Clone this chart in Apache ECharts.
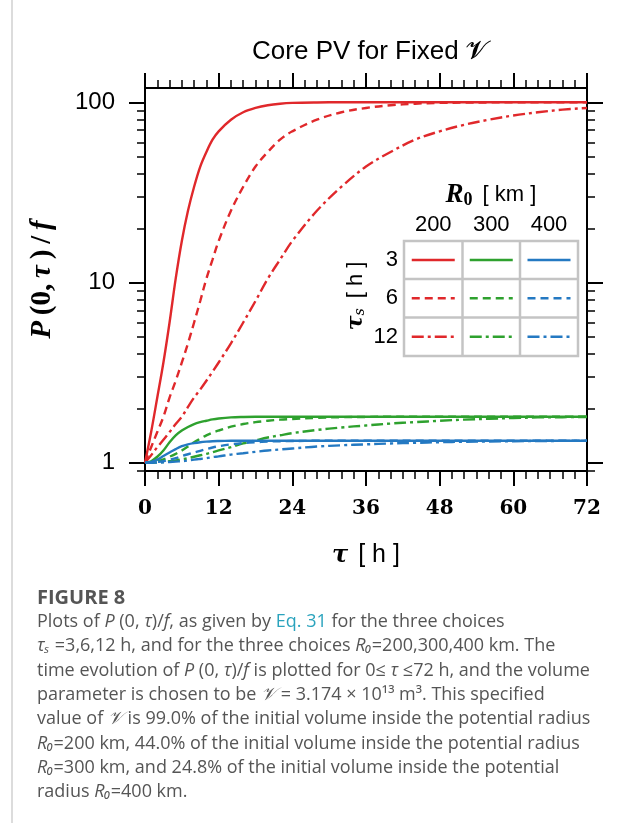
<!DOCTYPE html>
<html lang="en">
<head>
  <meta charset="UTF-8">
  <title>Core PV for Fixed V</title>
  <script src="https://cdn.jsdelivr.net/npm/echarts@6/dist/echarts.min.js"></script>
  <style>
    html, body { margin: 0; padding: 0; background: #fff; }
  </style>
</head>
<body>
  <div id="chart" style="width: 623px; height: 823px;"></div>

  <script>
    // time grid [h]
    const hours = [0, 1, 2, 3, 4, 5, 6, 7, 8, 9, 10, 11, 12, 14, 16, 18, 20, 22, 24, 28, 32, 36, 40, 44, 48, 52, 56, 60, 64, 68, 72]

    // P(0,tau)/f  R0 = 200 km
    const r200ts3 = [1, 1.48, 2.3, 3.6, 6.0, 10.5, 17, 25, 34, 44, 53, 62, 69, 80, 88, 93, 96.3, 98.2, 99.2, 99.8, 100, 100, 100, 100, 100, 100, 100, 100, 100, 100, 100]
    const r200ts6 = [1, 1.22, 1.48, 1.8, 2.3, 2.85, 3.6, 4.6, 6.0, 7.9, 10.5, 13.4, 17, 25, 34, 44, 53, 62, 69, 80, 88, 93, 96.3, 98.2, 99.2, 99.6, 99.8, 99.9, 100, 100, 100]
    const r200ts12 = [1, 1.1, 1.22, 1.34, 1.48, 1.64, 1.8, 2.04, 2.3, 2.55, 2.85, 3.2, 3.6, 4.6, 6.0, 7.9, 10.5, 13.4, 17, 25, 34, 44, 53, 62, 69, 75, 80, 84.5, 88, 91, 93]
    // R0 = 300 km
    const r300ts3 = [1, 1.02, 1.08, 1.17, 1.3, 1.42, 1.51, 1.58, 1.64, 1.68, 1.71, 1.74, 1.76, 1.785, 1.795, 1.8, 1.8, 1.8, 1.8, 1.8, 1.8, 1.8, 1.8, 1.8, 1.8, 1.8, 1.8, 1.8, 1.8, 1.8, 1.8]
    const r300ts6 = [1, 1.005, 1.02, 1.045, 1.08, 1.12, 1.17, 1.23, 1.3, 1.36, 1.42, 1.47, 1.51, 1.585, 1.64, 1.68, 1.71, 1.735, 1.75, 1.775, 1.79, 1.795, 1.8, 1.8, 1.8, 1.8, 1.8, 1.8, 1.8, 1.8, 1.8]
    const r300ts12 = [1, 1.0, 1.005, 1.01, 1.02, 1.03, 1.045, 1.06, 1.08, 1.1, 1.12, 1.145, 1.17, 1.22, 1.28, 1.33, 1.38, 1.42, 1.46, 1.52, 1.57, 1.61, 1.65, 1.68, 1.71, 1.735, 1.755, 1.77, 1.785, 1.79, 1.795]
    // R0 = 400 km
    const r400ts3 = [1, 1.01, 1.04, 1.09, 1.14, 1.19, 1.235, 1.265, 1.285, 1.3, 1.31, 1.317, 1.32, 1.324, 1.325, 1.325, 1.325, 1.325, 1.325, 1.325, 1.325, 1.325, 1.325, 1.325, 1.325, 1.325, 1.325, 1.325, 1.325, 1.325, 1.325]
    const r400ts6 = [1, 1.003, 1.01, 1.02, 1.04, 1.06, 1.09, 1.115, 1.14, 1.165, 1.19, 1.215, 1.235, 1.265, 1.285, 1.3, 1.31, 1.317, 1.32, 1.324, 1.325, 1.325, 1.325, 1.325, 1.325, 1.325, 1.325, 1.325, 1.325, 1.325, 1.325]
    const r400ts12 = [1, 1.0, 1.002, 1.005, 1.01, 1.015, 1.02, 1.03, 1.04, 1.05, 1.06, 1.075, 1.085, 1.11, 1.13, 1.15, 1.17, 1.185, 1.2, 1.23, 1.25, 1.265, 1.28, 1.29, 1.3, 1.308, 1.313, 1.317, 1.32, 1.322, 1.323]

    const radii = ['200', '300', '400']
    const tauS = ['3', '6', '12']
    const xTicks = [0, 12, 24, 36, 48, 60, 72]
    const yMajor = [1, 10, 100]
    const yMinor = [0.9, 2, 3, 4, 5, 6, 7, 8, 9, 20, 30, 40, 50, 60, 70, 80, 90]

    const colors = { '200': '#e0282b', '300': '#2ea12e', '400': '#2479c2' }
    const dashes = { '3': 'solid', '6': [8, 5], '12': [12, 4, 3, 4] }
    const curves = {
      '200': { '3': r200ts3, '6': r200ts6, '12': r200ts12 },
      '300': { '3': r300ts3, '6': r300ts6, '12': r300ts12 },
      '400': { '3': r400ts3, '6': r400ts6, '12': r400ts12 }
    }

    const series = []
    radii.forEach(r => {
      tauS.forEach(ts => {
        series.push({
          name: 'R' + r + ' ts' + ts,
          type: 'line',
          xAxisIndex: 0,
          yAxisIndex: 0,
          showSymbol: false,
          smooth: 0.35,
          z: 3,
          lineStyle: { color: colors[r], width: 2.4, type: dashes[ts] },
          data: hours.map((h, i) => [h, curves[r][ts][i]])
        })
      })
    })

    const black = '#000'

    function xAxisCfg (pos, showLabel) {
      return {
        type: 'value',
        position: pos,
        min: 0,
        max: 72,
        interval: 12,
        axisLine: { show: true, onZero: false, lineStyle: { color: black, width: 2 } },
        axisTick: { show: true, length: 15, lineStyle: { color: black, width: 2 } },
        minorTick: { show: true, splitNumber: 6, length: 8, lineStyle: { color: black, width: 1.5 } },
        splitLine: { show: false },
        minorSplitLine: { show: false },
        axisLabel: {
          show: showLabel,
          margin: 28,
          color: black,
          fontSize: 20,
          fontFamily: 'DejaVu Serif',
          fontWeight: 'bold',
          customValues: xTicks
        }
      }
    }

    function yAxisCfg (pos, ticks, len, width, showLabel) {
      return {
        type: 'log',
        logBase: 10,
        position: pos,
        min: 0.9,
        max: 120,
        axisLine: { show: true, lineStyle: { color: black, width: 2 } },
        axisTick: { show: true, length: len, customValues: ticks, lineStyle: { color: black, width: width } },
        splitLine: { show: false },
        axisLabel: {
          show: showLabel,
          customValues: yMajor,
          margin: 30,
          color: black,
          fontSize: 24,
          fontFamily: 'Liberation Sans'
        }
      }
    }

    const xAx = xAxisCfg('bottom', true)
    xAx.name = '{t|τ}   {u|[ h ]}'
    xAx.nameLocation = 'middle'
    xAx.nameGap = 72
    xAx.nameTextStyle = {
      rich: {
        t: { fontFamily: 'DejaVu Serif', fontStyle: 'italic', fontWeight: 'bold', fontSize: 24, color: black },
        u: { fontFamily: 'Liberation Sans', fontSize: 25, color: black }
      }
    }

    const yAx = yAxisCfg('left', yMajor, 16, 2, true)
    yAx.name = '{i|P}\u2009(0,\u2009{i|τ}\u2009)\u2009/\u2009{i|f}'
    yAx.nameLocation = 'middle'
    yAx.nameRotate = 90
    yAx.nameGap = 88
    yAx.nameTextStyle = {
      fontFamily: 'Liberation Serif', fontWeight: 'bold', fontSize: 29, color: black,
      rich: {
        i: { fontFamily: 'Liberation Serif', fontWeight: 'bold', fontStyle: 'italic', fontSize: 29, color: black }
      }
    }

    // legend table (gray grid)
    const tbl = { x0: 404, x1: 578, y0: 241, y1: 356 }
    const colX = [404, 462.5, 520, 578]
    const rowY = [241, 279, 317.5, 356]
    const gray = '#c4c4c4'
    const legendEls = []
    legendEls.push({ type: 'rect', shape: { x: tbl.x0, y: tbl.y0, width: tbl.x1 - tbl.x0, height: tbl.y1 - tbl.y0 }, style: { fill: '#fff', stroke: gray, lineWidth: 2.5 }, z: 10 })
    colX.slice(1, 3).forEach(x => legendEls.push({ type: 'line', shape: { x1: x, y1: tbl.y0, x2: x, y2: tbl.y1 }, style: { stroke: gray, lineWidth: 2.5 }, z: 11 }))
    rowY.slice(1, 3).forEach(y => legendEls.push({ type: 'line', shape: { x1: tbl.x0, y1: y, x2: tbl.x1, y2: y }, style: { stroke: gray, lineWidth: 2.5 }, z: 11 }))
    radii.forEach((r, ci) => {
      const cx = (colX[ci] + colX[ci + 1]) / 2
      legendEls.push({ type: 'text', x: cx, y: 225, style: { text: r, fontSize: 22, fontFamily: 'Liberation Sans', fill: black, align: 'center', verticalAlign: 'middle' }, z: 11 })
      tauS.forEach((ts, ri) => {
        const cy = (rowY[ri] + rowY[ri + 1]) / 2
        const d = dashes[ts]
        legendEls.push({
          type: 'line',
          shape: { x1: cx - 21.5, y1: cy, x2: cx + 21.5, y2: cy },
          style: { stroke: colors[r], lineWidth: 2.5, lineDash: d === 'solid' ? null : d },
          z: 12
        })
      })
    })
    tauS.forEach((ts, ri) => {
      const cy = (rowY[ri] + rowY[ri + 1]) / 2
      legendEls.push({ type: 'text', x: 398, y: cy, style: { text: ts, fontSize: 22, fontFamily: 'Liberation Sans', fill: black, align: 'right', verticalAlign: 'middle' }, z: 11 })
    })
    legendEls.push({
      type: 'text', x: 491, y: 195,
      style: {
        text: '{r|R}{s|0}   {u|[ km ]}',
        align: 'center', verticalAlign: 'middle',
        rich: {
          r: { fontFamily: 'Liberation Serif', fontWeight: 'bold', fontStyle: 'italic', fontSize: 27, fill: black },
          s: { fontFamily: 'Liberation Serif', fontWeight: 'bold', fontSize: 18, fill: black, padding: [10, 0, 0, 0] },
          u: { fontFamily: 'Liberation Sans', fontSize: 22, fill: black }
        }
      },
      z: 11
    })
    legendEls.push({
      type: 'text', x: 356, y: 296, rotation: Math.PI / 2,
      style: {
        text: '{t|τ}{s|s}   {u|[ h ]}',
        align: 'center', verticalAlign: 'middle',
        rich: {
          t: { fontFamily: 'DejaVu Serif', fontWeight: 'bold', fontStyle: 'italic', fontSize: 22, fill: black },
          s: { fontFamily: 'DejaVu Serif', fontStyle: 'italic', fontSize: 14, fill: black, padding: [9, 0, 0, 0] },
          u: { fontFamily: 'Liberation Sans', fontSize: 22, fill: black }
        }
      },
      z: 11
    })

    // caption
    const capColor = '#555'
    const capFont = 18
    const capRich = {
      i: { fontStyle: 'italic', fontFamily: 'Open Sans', fontSize: capFont, fill: capColor },
      a: { fontFamily: 'Open Sans', fontSize: capFont, fill: '#2aa3bd' }
    }
    const captionLines = [
      'Plots of {i|P} (0, {i|τ})/{i|f}, as given by {a|Eq. 31} for the three choices',
      '{i|τₛ} =3,6,12 h, and for the three choices {i|R₀}=200,300,400 km. The',
      'time evolution of {i|P} (0, {i|τ})/{i|f} is plotted for 0≤ {i|τ} ≤72 h, and the volume',
      'parameter is chosen to be {i|𝒱} = 3.174 × 10¹³ m³. This specified',
      'value of {i|𝒱} is 99.0% of the initial volume inside the potential radius',
      '{i|R₀}=200 km, 44.0% of the initial volume inside the potential radius',
      '{i|R₀}=300 km, and 24.8% of the initial volume inside the potential',
      'radius {i|R₀}=400 km.'
    ]
    const captionEls = [
      { type: 'line', shape: { x1: 12, y1: 0, x2: 12, y2: 823 }, style: { stroke: '#d0d0d0', lineWidth: 1.5 } },
      { type: 'text', x: 37, y: 598, style: { text: 'FIGURE 8', fontFamily: 'Open Sans', fontWeight: 'bold', fontSize: 20, fill: capColor, verticalAlign: 'middle' } }
    ]
    captionLines.forEach((t, i) => {
      captionEls.push({
        type: 'text', x: 37, y: 622 + i * 24.3,
        style: { text: t, fontFamily: 'Open Sans', fontSize: capFont, fill: capColor, verticalAlign: 'middle', rich: capRich }
      })
    })

    const chart = echarts.init(document.getElementById('chart'), null, { renderer: 'canvas' })
    chart.setOption({
      animation: false,
      backgroundColor: '#fff',
      title: {
        text: 'Core PV for Fixed 𝓥',
        left: 365,
        top: 34,
        textAlign: 'center',
        textStyle: { fontFamily: 'Liberation Sans', fontWeight: 'normal', fontSize: 26, color: black }
      },
      grid: { left: 145, right: 36, top: 88, bottom: 352, show: true, borderColor: black, borderWidth: 2, backgroundColor: 'transparent' },
      xAxis: [xAx, xAxisCfg('top', false)],
      yAxis: [
        yAx,
        yAxisCfg('left', yMinor, 8, 1.5, false),
        yAxisCfg('right', yMajor, 16, 2, false),
        yAxisCfg('right', yMinor, 8, 1.5, false)
      ],
      series: series,
      graphic: legendEls.concat(captionEls)
    })
  </script>
</body>
</html>
